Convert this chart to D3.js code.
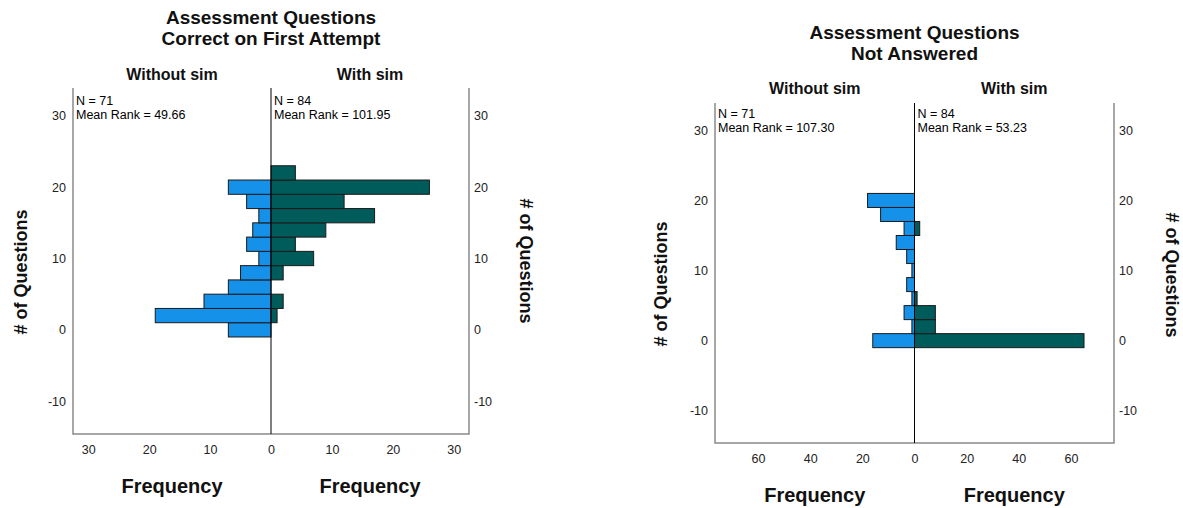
<!DOCTYPE html>
<html>
<head>
<meta charset="utf-8">
<script src="https://cdn.jsdelivr.net/npm/d3@7"></script>
<style>
  body { margin: 0; background: #fff; }
  text { font-family: "Liberation Sans", Arial, sans-serif; }
</style>
</head>
<body>
<script>
// Bins of width 2, centred on even values of "# of Questions"
const binCenters = [0, 2, 4, 6, 8, 10, 12, 14, 16, 18, 20, 22];

// Correct on first attempt (frequencies per bin)
const correctWithoutSim = [7, 19, 11, 7, 5, 2, 4, 3, 2, 4, 7, 0];
const correctWithSim    = [0, 1, 2, 0, 2, 7, 4, 9, 17, 12, 26, 4];

// Not answered (frequencies per bin)
const notAnsweredWithoutSim = [16, 1, 4, 1, 3, 1, 3, 7, 4, 13, 18, 0];
const notAnsweredWithSim    = [65, 8, 8, 1, 0, 0, 0, 0, 2, 0, 0, 0];

// Tick labels
const yTicks = [-10, 0, 10, 20, 30];
const correctFreqTicks = [0, 10, 20, 30];
const notAnsweredFreqTicks = [0, 20, 40, 60];

const groupLabels = ["Without sim", "With sim"];
const correctStats = ["N = 71|Mean Rank = 49.66", "N = 84|Mean Rank = 101.95"];
const notAnsweredStats = ["N = 71|Mean Rank = 107.30", "N = 84|Mean Rank = 53.23"];

const blue = "#1591ea";
const green = "#005b5b";

const svg = d3.select("body").append("svg")
    .attr("width", 1183)
    .attr("height", 508);

// Each chart: its box on the page and its data
const charts = [
  {
    title: ["Assessment Questions", "Correct on First Attempt"],
    without: correctWithoutSim, withSim: correctWithSim,
    stats: correctStats, freqMax: 32.5, freqTicks: correctFreqTicks,
    left: 73, right: 469, top: 88, bottom: 434,
    titleY: 24, groupY: 80, statsY: 105, freqY: 493,
    yLabelLeft: {x: 27, y: 272}, yLabelRight: {x: 520, y: 261}
  },
  {
    title: ["Assessment Questions", "Not Answered"],
    without: notAnsweredWithoutSim, withSim: notAnsweredWithSim,
    stats: notAnsweredStats, freqMax: 76.5, freqTicks: notAnsweredFreqTicks,
    left: 715, right: 1114, top: 103, bottom: 443,
    titleY: 39, groupY: 94, statsY: 118, freqY: 502,
    yLabelLeft: {x: 667, y: 284}, yLabelRight: {x: 1166, y: 275}
  }
];

const drawChart = (c) => {
  const g = svg.append("g");

  const yScale = d3.scaleLinear()
      .domain([-14.6, 33.9])
      .range([c.bottom, c.top]);
  // middle of the plot is where both halves meet
  const center = c.left + (c.right - c.left) / 2;

  const xLeft = d3.scaleLinear().domain([0, c.freqMax]).range([center, c.left]);
  const xRight = d3.scaleLinear().domain([0, c.freqMax]).range([center, c.right]);

  // bars
  const rows = binCenters.map((b, i) => ({bin: b, without: c.without[i], withSim: c.withSim[i]}));

  g.selectAll(".bar-without")
    .data(rows.filter(d => d.without > 0))
    .join("rect")
    .attr("class", "bar-without")
    .attr("x", d => xLeft(d.without))
    .attr("width", d => center - xLeft(d.without))
    .attr("y", d => yScale(d.bin + 1))
    .attr("height", d => yScale(d.bin - 1) - yScale(d.bin + 1))
    .style("fill", blue)
    .style("stroke", "#1a1a1a")
    .style("stroke-width", 1);

  g.selectAll(".bar-with")
    .data(rows.filter(d => d.withSim > 0))
    .join("rect")
    .attr("class", "bar-with")
    .attr("x", center)
    .attr("width", d => xRight(d.withSim) - center)
    .attr("y", d => yScale(d.bin + 1))
    .attr("height", d => yScale(d.bin - 1) - yScale(d.bin + 1))
    .style("fill", green)
    .style("stroke", "#1a1a1a")
    .style("stroke-width", 1);

  // frame: left, bottom, right (no top)
  g.append("path")
    .attr("d", `M${c.left},${c.top}V${c.bottom}H${c.right}V${c.top}`)
    .style("fill", "none")
    .style("stroke", "#8a8a8a")
    .style("stroke-width", 1.5);

  // centre line
  g.append("line")
    .attr("x1", center).attr("x2", center)
    .attr("y1", c.top).attr("y2", c.bottom)
    .style("stroke", "#000")
    .style("stroke-width", 1);

  // y axes both sides (plain hyphen for negatives, like the original)
  const fmt = d => String(d);
  const yAxisL = d3.axisLeft(yScale).tickValues(yTicks).tickFormat(fmt).tickSize(0).tickPadding(7);
  const yAxisR = d3.axisRight(yScale).tickValues(yTicks).tickFormat(fmt).tickSize(0).tickPadding(5);
  const yl = g.append("g").attr("transform", `translate(${c.left},0)`).call(yAxisL);
  const yr = g.append("g").attr("transform", `translate(${c.right},0)`).call(yAxisR);

  // frequency axes
  const xAxisL = d3.axisBottom(xLeft).tickValues(c.freqTicks).tickFormat(fmt).tickSize(0).tickPadding(11);
  const xAxisR = d3.axisBottom(xRight).tickValues(c.freqTicks.filter(t => t !== 0)).tickFormat(fmt).tickSize(0).tickPadding(11);
  const xl = g.append("g").attr("transform", `translate(0,${c.bottom})`).call(xAxisL);
  const xr = g.append("g").attr("transform", `translate(0,${c.bottom})`).call(xAxisR);

  [yl, yr, xl, xr].forEach(a => {
    a.select(".domain").remove();
    a.selectAll("text")
      .style("font-family", "'Liberation Sans', Arial, sans-serif")
      .style("font-size", "12.5px")
      .style("fill", "#222");
  });

  // titles
  const halfL = (c.left + center) / 2;
  const halfR = (center + c.right) / 2;

  g.selectAll(".title")
    .data(c.title)
    .join("text")
    .attr("class", "title")
    .attr("x", center)
    .attr("y", (d, i) => c.titleY + i * 20.5)
    .attr("text-anchor", "middle")
    .style("font-size", "19px")
    .style("font-weight", "bold")
    .style("fill", "#111")
    .text(d => d);

  g.selectAll(".group")
    .data(groupLabels)
    .join("text")
    .attr("class", "group")
    .attr("x", (d, i) => i === 0 ? halfL : halfR)
    .attr("y", c.groupY)
    .attr("text-anchor", "middle")
    .style("font-size", "16px")
    .style("font-weight", "bold")
    .style("fill", "#111")
    .text(d => d);

  // N / mean rank labels
  c.stats.forEach((s, i) => {
    const x0 = i === 0 ? c.left + 3 : center + 3;
    s.split("|").forEach((line, j) => {
      g.append("text")
        .attr("x", x0)
        .attr("y", c.statsY + j * 13.5)
        .style("font-size", "12.5px")
        .style("fill", "#000")
        .text(line);
    });
  });

  // Frequency labels
  [halfL, halfR].forEach(x => {
    g.append("text")
      .attr("x", x)
      .attr("y", c.freqY)
      .attr("text-anchor", "middle")
      .style("font-size", "20px")
      .style("font-weight", "bold")
      .style("fill", "#111")
      .text("Frequency");
  });

  // # of Questions labels
  g.append("text")
    .attr("transform", `translate(${c.yLabelLeft.x},${c.yLabelLeft.y}) rotate(-90)`)
    .attr("text-anchor", "middle")
    .style("font-size", "18px")
    .style("font-weight", "bold")
    .style("fill", "#111")
    .text("# of Questions");

  g.append("text")
    .attr("transform", `translate(${c.yLabelRight.x},${c.yLabelRight.y}) rotate(90)`)
    .attr("text-anchor", "middle")
    .style("font-size", "18px")
    .style("font-weight", "bold")
    .style("fill", "#111")
    .text("# of Questions");
};

charts.forEach(drawChart);
</script>
</body>
</html>
